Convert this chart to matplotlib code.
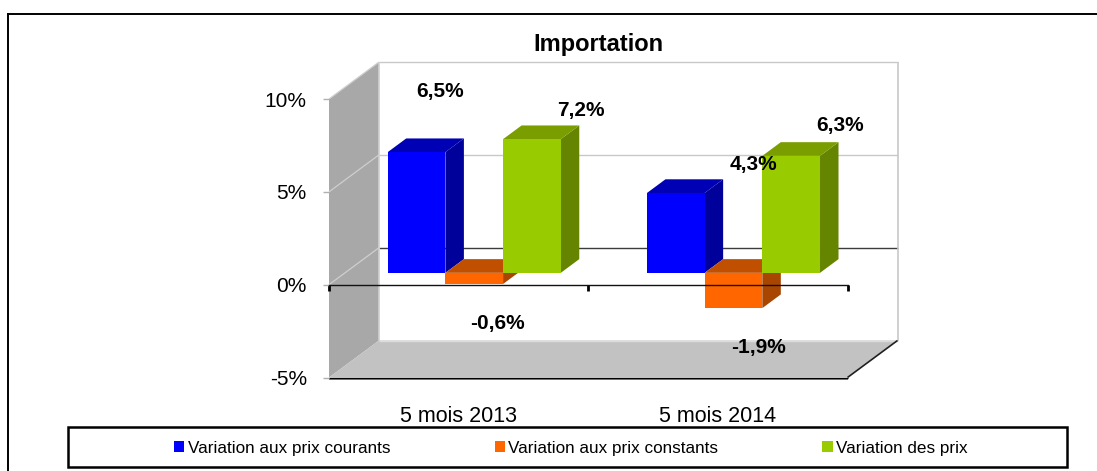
import matplotlib
matplotlib.use("Agg")
import matplotlib.pyplot as plt
from matplotlib.patches import Rectangle, Patch
from matplotlib.lines import Line2D

plt.rcParams['font.family'] = ['Liberation Sans', 'DejaVu Sans']

# ---- data ----
categories = ["5 mois 2013", "5 mois 2014"]
series_names = ["Variation aux prix courants", "Variation aux prix constants", "Variation des prix"]
courants = [6.5, 4.3]
constants = [-0.6, -1.9]
prix = [7.2, 6.3]
courants_labels = ["6,5%", "4,3%"]
constants_labels = ["-0,6%", "-1,9%"]
prix_labels = ["7,2%", "6,3%"]
y_ticks = [-5, 0, 5, 10]
y_tick_labels = ["-5%", "0%", "5%", "10%"]
title = "Importation"

# ---- style / layout ----
W, H = 1097, 471
FRONT = {"left": 329, "right": 847.5, "top": 99, "bottom": 377.5}
DEPTH_PX = (50, 37)
BAR_DEPTH = (0.32, 0.69)
BAR_W = 0.2225
BAR_CENTER = 0.4985
styles = [("#0000ff", "#0000b4", "#00009a"),
          ("#ff6600", "#c05000", "#a84600"),
          ("#99cc00", "#7a9e00", "#658500")]
# pixel offsets of the data labels from the top of each bar (x right, y up)
label_offsets = [[(24, 61), (78, 28)], [(23, -40), (25, -39)], [(49, 29), (49, 30)]]

fig = plt.figure(figsize=(W / 100, H / 100), dpi=100)
fig.patch.set_facecolor("white")
ax = fig.add_axes([FRONT["left"] / W, 1 - FRONT["bottom"] / H,
                   (FRONT["right"] - FRONT["left"]) / W,
                   (FRONT["bottom"] - FRONT["top"]) / H])
ax.set_xlim(0, len(categories))
ax.set_ylim(-5, 10)
ax.patch.set_visible(False)

unit_x = (FRONT["right"] - FRONT["left"]) / len(categories)
unit_y = (FRONT["bottom"] - FRONT["top"]) / 15
DX = DEPTH_PX[0] / unit_x
DY = DEPTH_PX[1] / unit_y


def pr(x, v, d):
    """Project a point (category x, value v, depth d) into axes data coordinates."""
    return (x + d * DX, v + d * DY)


def poly(points, **kw):
    xs, ys = zip(*[pr(*p) for p in points])
    kw.setdefault("linewidth", 0)
    kw.setdefault("clip_on", False)
    return ax.fill(xs, ys, **kw)


xmax = len(categories)
# walls and floor
poly([(0, -5, 0), (0, 10, 0), (0, 10, 1), (0, -5, 1)], color="#a8a8a8", zorder=0.2)
poly([(0, -5, 0), (xmax, -5, 0), (xmax, -5, 1), (0, -5, 1)], color="#c2c2c2", zorder=0.2)


def seg(points, **kw):
    xs, ys = zip(*[pr(*p) for p in points])
    kw.setdefault("clip_on", False)
    kw.setdefault("solid_capstyle", "butt")
    ax.plot(xs, ys, **kw)


for t in y_ticks[1:]:
    col = "#3c3c3c" if t == 0 else "#c8c8c8"
    seg([(0, t, 1), (xmax, t, 1)], color=col, lw=1.0, zorder=0.4)
    seg([(0, t, 0), (0, t, 1)], color="#cfcfcf", lw=0.9, zorder=0.4)
seg([(xmax, -5, 1), (xmax, 10, 1)], color="#c8c8c8", lw=1.2, zorder=0.4)
seg([(0, -5, 1), (xmax, -5, 1)], color="#dcdcdc", lw=1.0, zorder=0.4)
seg([(0, -5, 1), (0, 10, 1)], color="#d0d0d0", lw=1.2, zorder=0.4)
seg([(0, -5.09, 0), (xmax, -5.09, 0)], color="#808080", lw=1.4, zorder=0.5)
seg([(0, -5, 0), (xmax, -5, 0)], color="#000000", lw=0.9, zorder=0.6)
seg([(xmax, -5, 0), (xmax, -5, 1)], color="#202020", lw=1.2, zorder=0.6)

# bars
series = [courants, constants, prix]
labels = [courants_labels, constants_labels, prix_labels]
d0, d1 = BAR_DEPTH
z = 1.0
for c in range(len(categories)):
    for s, values in enumerate(series):
        v = values[c]
        x0 = c + BAR_CENTER - 1.5 * BAR_W + s * BAR_W
        x1 = x0 + BAR_W
        front, top, side = styles[s]
        level = max(v, 0)
        poly([(x1, 0, d0), (x1, v, d0), (x1, v, d1), (x1, 0, d1)], color=side, zorder=z)
        poly([(x0, level, d0), (x1, level, d0), (x1, level, d1), (x0, level, d1)], color=top, zorder=z)
        bx, by = pr(x0, 0, d0)
        ax.bar(bx, v, width=BAR_W, bottom=by, align="edge", color=front, linewidth=0,
               clip_on=False, zorder=z)
        ax.annotate(labels[s][c], xy=(bx + BAR_W / 2, by + v), xycoords="data",
                    xytext=label_offsets[s][c], textcoords="offset pixels",
                    ha="center", va="center", fontsize=15, fontweight="bold",
                    color="black", zorder=5, annotation_clip=False)
        z += 0.01

# axes furniture
for name in ("top", "right", "left"):
    ax.spines[name].set_visible(False)
ax.spines["bottom"].set_position(("data", 0))
ax.spines["bottom"].set_color("#111111")
ax.spines["bottom"].set_linewidth(1.0)
ax.spines["bottom"].set_zorder(3)
ax.set_axisbelow(False)
ax.set_xticks(range(len(categories) + 1))
ax.set_xticklabels([])
ax.tick_params(axis="x", which="major", direction="out", length=4, width=2, color="black")
ax.set_xticks([i + 0.5 for i in range(len(categories))], minor=True)
ax.set_xticklabels(categories, minor=True, fontsize=15.5, color="black")
ax.tick_params(axis="x", which="minor", length=0, pad=87)
ax.set_yticks(y_ticks)
ax.set_yticklabels(y_tick_labels, fontsize=15, color="black")
ax.tick_params(axis="y", direction="out", length=4, width=1, color="#b0b0b0", pad=12)

fig.text(598 / W, 1 - 45 / H, title, ha="center", va="center", fontsize=17, fontweight="bold")

# outer frame
fig.add_artist(Line2D([8 / W, 8 / W, 8 / W], [0, 1 - 14 / H, 1 - 14 / H], color="black", lw=1.4))
fig.add_artist(Line2D([8 / W, 1], [1 - 14 / H, 1 - 14 / H], color="black", lw=1.4))

# legend
fig.add_artist(Rectangle((68 / W, 1 - 467 / H), 999 / W, 40 / H, transform=fig.transFigure,
                         facecolor="white", edgecolor="black", linewidth=1.8))
handles = [Patch(facecolor=st[0], edgecolor="none", label=n) for st, n in zip(styles, series_names)]
fig.legend(handles=handles, loc="center", bbox_to_anchor=(571 / W, 1 - 448 / H), ncol=3,
           frameon=False, fontsize=12.3, columnspacing=6.1, handlelength=0.6, handleheight=0.6,
           handletextpad=0.2, borderpad=0, labelspacing=0)

fig.savefig("out.png", dpi=100)
